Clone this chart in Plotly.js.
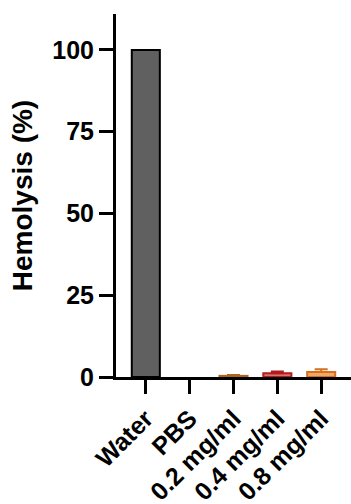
<!DOCTYPE html>
<html>
<head>
<meta charset="utf-8">
<script src="https://cdn.plot.ly/plotly-3.0.1.min.js"></script>
<style>html,body{margin:0;padding:0;background:#fff;}#chart{width:351px;height:504px;}</style>
</head>
<body>
<div id="chart"></div>
<script>
var categories = ["Water", "PBS", "0.2 mg/ml", "0.4 mg/ml", "0.8 mg/ml"];
var hemolysis = [100, 0, 0.35, 1.15, 1.5];
var errorPlus = [0, 0, 0.25, 0.55, 0.85];
var fillColors = ["#606060", "#ffffff", "#e8a050", "#e07070", "#f2a862"];
var edgeColors = ["#000000", "#000000", "#a8661e", "#b01c1c", "#d4701e"];
var edgeWidths = [2, 0, 2, 2, 2];
var yTicks = [0, 25, 50, 75, 100];

var data = categories.map(function (c, i) {
  return {
    type: "bar",
    x: [c],
    y: [hemolysis[i]],
    width: 0.64,
    marker: {color: fillColors[i], line: {color: edgeColors[i], width: edgeWidths[i]}},
    error_y: {type: "data", array: [errorPlus[i]], symmetric: false, arrayminus: [0],
              color: edgeColors[i], thickness: 2, width: 6.5, visible: errorPlus[i] > 0},
    hoverinfo: "none"
  };
});
var font = "Liberation Sans, Arial, sans-serif";
var layout = {
  width: 351, height: 504,
  margin: {l: 116, r: 0, t: 14, b: 127},
  paper_bgcolor: "#fff", plot_bgcolor: "#fff",
  showlegend: false,
  barmode: "overlay",
  xaxis: {
    type: "category",
    categoryorder: "array", categoryarray: categories,
    range: [-0.68, 4.68],
    showline: true, linecolor: "#000", linewidth: 3,
    ticks: "outside", ticklen: 14, tickwidth: 3, tickcolor: "#000",
    tickangle: -45,
    ticklabelstandoff: 0,
    tickfont: {family: font, size: 25, color: "#000", weight: "bold"},
    showgrid: false, zeroline: false, fixedrange: true
  },
  yaxis: {
    range: [0, 111],
    tickvals: yTicks, ticktext: yTicks.map(String),
    showline: true, linecolor: "#000", linewidth: 3,
    ticks: "outside", ticklen: 14, tickwidth: 3, tickcolor: "#000",
    tickfont: {family: font, size: 25, color: "#000", weight: "bold"},
    title: {text: "Hemolysis (%)", font: {family: font, size: 28, color: "#000", weight: "bold"}, standoff: 12},
    showgrid: false, zeroline: false, fixedrange: true
  }
};
Plotly.newPlot("chart", data, layout, {displayModeBar: false, staticPlot: true});
</script>
</body>
</html>
